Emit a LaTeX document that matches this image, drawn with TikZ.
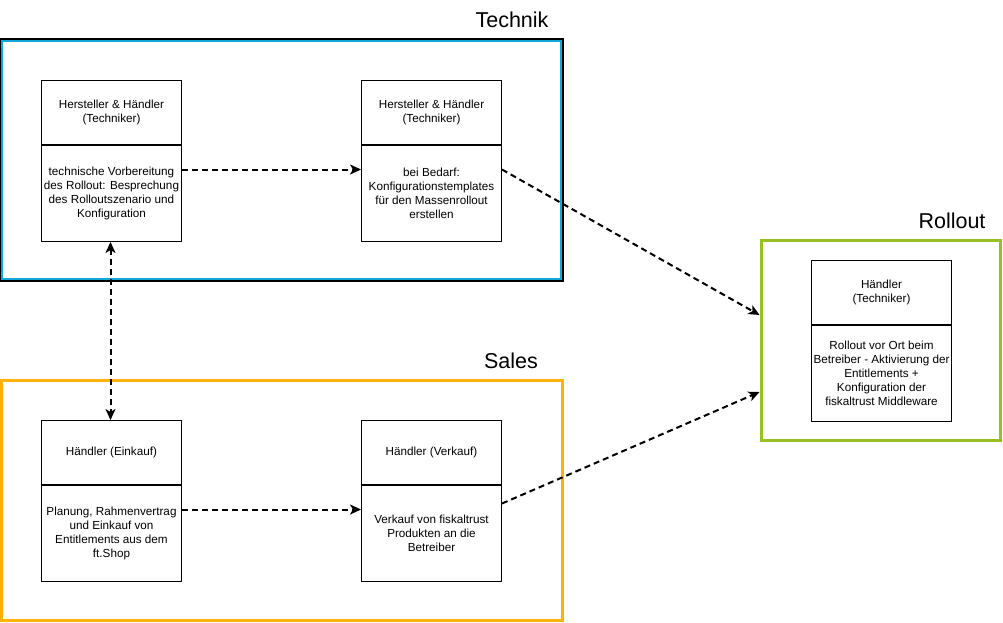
\documentclass[tikz,border=0pt]{standalone}
\usepackage{fontspec}
\setmainfont{Liberation Sans}
\usetikzlibrary{arrows.meta,calc}
\definecolor{tcyan}{HTML}{10A8D8}
\definecolor{sorange}{HTML}{FFB300}
\definecolor{rgreen}{HTML}{97C024}
\begin{document}
\begin{tikzpicture}[x=1pt,y=-1pt,
  hdr/.style={draw=black,line width=1pt,minimum width=140pt,minimum height=64pt,inner sep=0pt,align=center,font=\fontsize{11.7}{14}\selectfont,anchor=north west},
  bdy/.style={draw=black,line width=1pt,minimum width=140pt,minimum height=96pt,inner sep=0pt,align=center,font=\fontsize{11.7}{14}\selectfont,anchor=north},
  title/.style={font=\fontsize{21.5}{24}\selectfont,inner sep=0pt},
  tip/.style={},
  arr/.style={line width=2pt,dash pattern=on 6pt off 4pt,-{Stealth[length=11pt,width=10pt,inset=3pt]}},
  darr/.style={line width=2pt,dash pattern=on 6pt off 4pt,{Stealth[length=11pt,width=10pt,inset=3pt]}-{Stealth[length=11pt,width=10pt,inset=3pt]}}
]
\useasboundingbox (0,0) rectangle (1003,622);
% frames
\node[draw=tcyan,line width=3.5pt,minimum width=561pt,minimum height=240pt,inner sep=0pt] (techF) at (281.5,160) {};
\draw[black,line width=1.7pt] ([shift={(0.9pt,-0.9pt)}]techF.north west) rectangle ([shift={(-0.9pt,0.9pt)}]techF.south east);
\node[draw=sorange,line width=3pt,minimum width=561pt,minimum height=240pt,inner sep=0pt] (salesF) at (281.5,500) {};
\node[draw=rgreen,line width=3pt,minimum width=239pt,minimum height=200pt,inner sep=0pt] (rollF) at (880.5,340) {};
% titles
\node[title] (techT) at (512,20) {Technik};
\node[title] (salesT) at (511,361) {Sales};
\node[title] (rollT) at (952,221) {Rollout};
% Technik boxes
\node[hdr] (t1h) at (41,80) {Hersteller \& Händler\\(Techniker)};
\node[bdy] (t1b) at (t1h.south) {technische Vorbereitung\\des Rollout: Besprechung\\des Rolloutszenario und\\Konfiguration};
\node[hdr] (t2h) at (361,80) {Hersteller \& Händler\\(Techniker)};
\node[bdy] (t2b) at (t2h.south) {bei Bedarf:\\Konfigurationstemplates\\für den Massenrollout\\erstellen};
% Sales boxes
\node[hdr] (s1h) at (41,420) {Händler (Einkauf)};
\node[bdy] (s1b) at (s1h.south) {Planung, Rahmenvertrag\\und Einkauf von\\Entitlements aus dem\\ft.Shop};
\node[hdr] (s2h) at (361,420) {Händler (Verkauf)};
\node[bdy] (s2b) at (s2h.south) {Verkauf von fiskaltrust\\Produkten an die\\Betreiber};
% Rollout box
\node[hdr] (r1h) at (811,260) {Händler\\(Techniker)};
\node[bdy] (r1b) at (r1h.south) {Rollout vor Ort beim\\Betreiber - Aktivierung der\\Entitlements +\\Konfiguration der\\fiskaltrust Middleware};
% connectors
\draw[arr] ([yshift=24pt]t1b.east) -- ([yshift=24pt]t2b.west);
\draw[arr] ([yshift=24pt]s1b.east) -- ([yshift=24pt]s2b.west);
\draw[darr] ([xshift=-1pt]t1b.south) -- ([xshift=-1pt]s1h.north);
\draw[arr] ([yshift=24pt]t2b.east) -- ([yshift=25pt]rollF.west);
\draw[arr] ([yshift=30pt]s2b.east) -- ([yshift=-52pt]rollF.west);
\end{tikzpicture}
\end{document}
